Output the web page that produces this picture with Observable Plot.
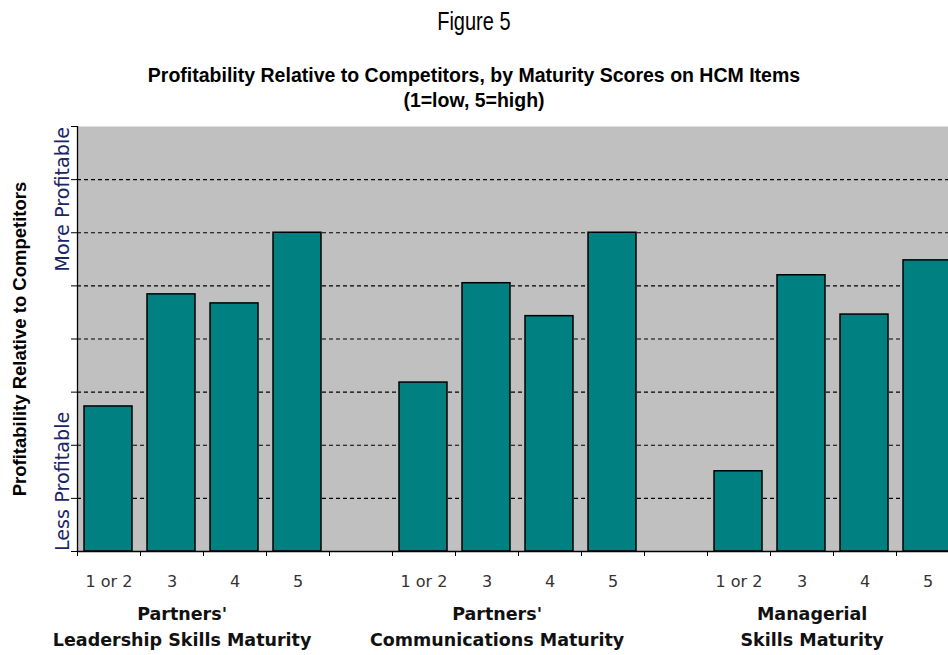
<!DOCTYPE html>
<html>
<head>
<meta charset="utf-8">
<script src="https://cdn.jsdelivr.net/npm/d3@7"></script>
<script src="https://cdn.jsdelivr.net/npm/@observablehq/plot@0.6"></script>
<style>
  html, body { margin: 0; padding: 0; background: #fff; overflow: hidden; width: 948px; height: 655px; }
  #header { position: relative; width: 948px; height: 115px; }
  #header div { position: absolute; left: 0; width: 948px; text-align: center; white-space: nowrap; color: #000; }
  #fig { top: 5px; font: 25px "Liberation Sans", Arial, sans-serif; line-height: 32px; }
  #fig span { display: inline-block; transform: scaleX(0.8); }
  #sub1 { top: 62px; font: bold 19.5px "Liberation Sans", Arial, sans-serif; line-height: 26px; }
  #sub2 { top: 87px; font: bold 19.5px "Liberation Sans", Arial, sans-serif; line-height: 26px; }
  #chart { width: 948px; overflow: hidden; }
</style>
</head>
<body>
<div id="header">
  <div id="fig"><span></span></div>
  <div id="sub1"></div>
  <div id="sub2"></div>
</div>
<div id="chart"></div>
<script>
// ---- data ----
const title = "Figure 5";
const subtitleLines = ["Profitability Relative to Competitors, by Maturity Scores on HCM Items", "(1=low, 5=high)"];
const yTitle = "Profitability Relative to Competitors";
const groupNames = [
  "Partners'\nLeadership Skills Maturity",
  "Partners'\nCommunications Maturity",
  "Managerial\nSkills Maturity"
];
const categories = ["1 or 2", "3", "4", "5"];
const leadershipValues = [2.73, 4.84, 4.67, 6.0];
const communicationsValues = [3.18, 5.05, 4.43, 6.0];
const managerialValues = [1.51, 5.2, 4.46, 5.48];
const yTicks = [0, 1, 2, 3, 4, 5, 6, 7, 8];
const yEndLabels = [
  {label: "More Profitable", value: 6.63},
  {label: "Less Profitable", value: 1.32}
];

document.querySelector("#fig span").textContent = title;
document.getElementById("sub1").textContent = subtitleLines[0];
document.getElementById("sub2").textContent = subtitleLines[1];

// Build table: each group occupies 4 slots followed by one empty spacer slot
const seriesValues = [leadershipValues, communicationsValues, managerialValues];
const slotsPerGroup = categories.length + 1;
const bars = [];
seriesValues.forEach((vals, g) => {
  vals.forEach((v, i) => bars.push({group: groupNames[g], category: categories[i], slot: g * slotsPerGroup + i, value: v}));
});
const groups = groupNames.map((name, g) => ({name, start: g * slotsPerGroup}));
const nSlots = groupNames.length * slotsPerGroup - 1;
const xTicks = d3.range(0, nSlots + 1);

const chart = Plot.plot({
  width: 948,
  height: 540,
  marginTop: 11,
  marginBottom: 104,
  marginLeft: 77,
  marginRight: -11,
  x: {type: "linear", domain: [0, nSlots], axis: null},
  y: {domain: [0, 8], axis: null},
  style: {fontFamily: "DejaVu Sans, sans-serif", background: "#fff", overflow: "visible"},
  marks: [
    Plot.frame({fill: "#c0c0c0", stroke: null}),
    Plot.gridY(yTicks.filter(t => t > 0 && t < 8), {stroke: "#000", strokeOpacity: 1, strokeWidth: 1.1, strokeDasharray: "4,3"}),
    Plot.rectY(bars, {x: "slot", interval: 1, y: "value", insetLeft: 7, insetRight: 8, fill: "#008080", stroke: "#000", strokeWidth: 1.5}),
    Plot.ruleX([0], {stroke: "#000", strokeWidth: 1.3}),
    Plot.ruleY([0], {stroke: "#000", strokeWidth: 1.3}),
    Plot.axisY({ticks: yTicks, tickSize: 6, tickFormat: () => "", stroke: "#000", label: null}),
    Plot.axisX({ticks: xTicks, tickSize: 5, tickFormat: () => "", stroke: "#000", label: null}),
    Plot.text(bars, {x: d => d.slot + 0.5, y: 0, text: "category", dy: 30, fontSize: 16, fill: "#333"}),
    Plot.text(groups, {x: d => d.start + 1.66, y: 0, text: "name", dy: 50, lineAnchor: "top", lineHeight: 1.5, fontSize: 17.5, fontWeight: "bold", fill: "#111"}),
    Plot.text(yEndLabels, {frameAnchor: "left", textAnchor: "middle", y: "value", text: "label", rotate: -90, dx: -15, fontSize: 19.2, fill: "#1a2466"}),
    Plot.text([yTitle], {frameAnchor: "left", textAnchor: "middle", text: d => d, rotate: -90, dx: -57, fontSize: 18.5, fontWeight: "bold", fontFamily: "Liberation Sans, Arial, sans-serif", fill: "#000"})
  ]
});
document.getElementById("chart").appendChild(chart);
</script>
</body>
</html>
